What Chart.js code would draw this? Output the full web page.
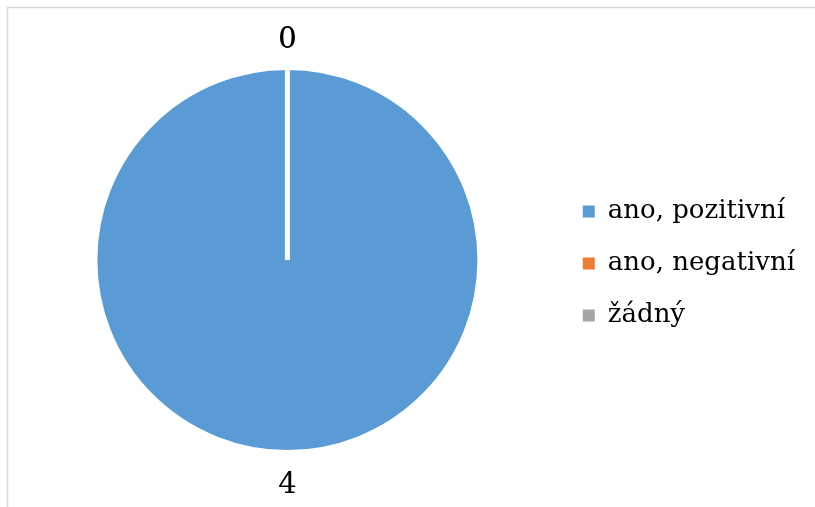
<!DOCTYPE html>
<html>
<head>
<meta charset="utf-8">
<script src="https://cdn.jsdelivr.net/npm/chart.js@4/dist/chart.umd.min.js"></script>
<style>
	html, body { margin: 0; padding: 0; background: #fff; }
	#wrap { width: 815px; height: 507px; }
</style>
</head>
<body>
<div id="wrap"><canvas id="pChart" width="815" height="507"></canvas></div>
<script>
const labels = ["ano, pozitivní", "ano, negativní", "žádný"];
const values = [4, 0, 0];
const colors = ["#5B9BD5", "#ED7D31", "#A5A5A5"];

// frame around the chart (only top and left show inside the window)
const framePlugin = {
	id: "frame",
	beforeDraw(chart) {
		const c = chart.ctx;
		c.save();
		c.strokeStyle = "#d9d9d9";
		c.lineWidth = 1.5;
		c.strokeRect(7.5, 7.5, 1000, 1000);
		c.restore();
	},
};

// value labels outside each slice
const outLabels = {
	id: "outLabels",
	afterDatasetsDraw(chart) {
		const c = chart.ctx;
		const meta = chart.getDatasetMeta(0);
		c.save();
		c.font = "29px 'DejaVu Serif', serif";
		c.fillStyle = "#000";
		c.textAlign = "center";
		c.textBaseline = "middle";
		meta.data.forEach((arc, i) => {
			const mid = (arc.startAngle + arc.endAngle) / 2;
			const r = arc.outerRadius + 30;
			c.fillText(String(values[i]), arc.x + Math.cos(mid) * r, arc.y + Math.sin(mid) * r + 3);
		});
		c.restore();
	},
};

const ctx = document.getElementById("pChart");
const myChart = new Chart(ctx, {
	type: "pie",
	data: {
		labels: labels,
		datasets: [
			{
				data: values,
				backgroundColor: colors,
				borderColor: "#ffffff",
				borderWidth: 5,
			},
		],
	},
	options: {
		responsive: false,
		animation: false,
		layout: {
			padding: { left: 18, top: 65, bottom: 52, right: 10 },
		},
		plugins: {
			tooltip: { enabled: false },
			legend: {
				position: "right",
				title: {
					display: true,
					text: " ",
					font: { size: 5 },
					padding: 0.5,
				},
				labels: {
					boxWidth: 12,
					boxHeight: 12,
					padding: 26,
					color: "#000",
					font: { family: "'DejaVu Serif', serif", size: 26 },
					generateLabels(chart) {
						const items = Chart.controllers.pie.overrides.plugins.legend.labels.generateLabels(chart);
						items.forEach((it) => { it.lineWidth = 0; });
						return items;
					},
				},
			},
		},
	},
	plugins: [framePlugin, outLabels],
});
</script>
</body>
</html>
